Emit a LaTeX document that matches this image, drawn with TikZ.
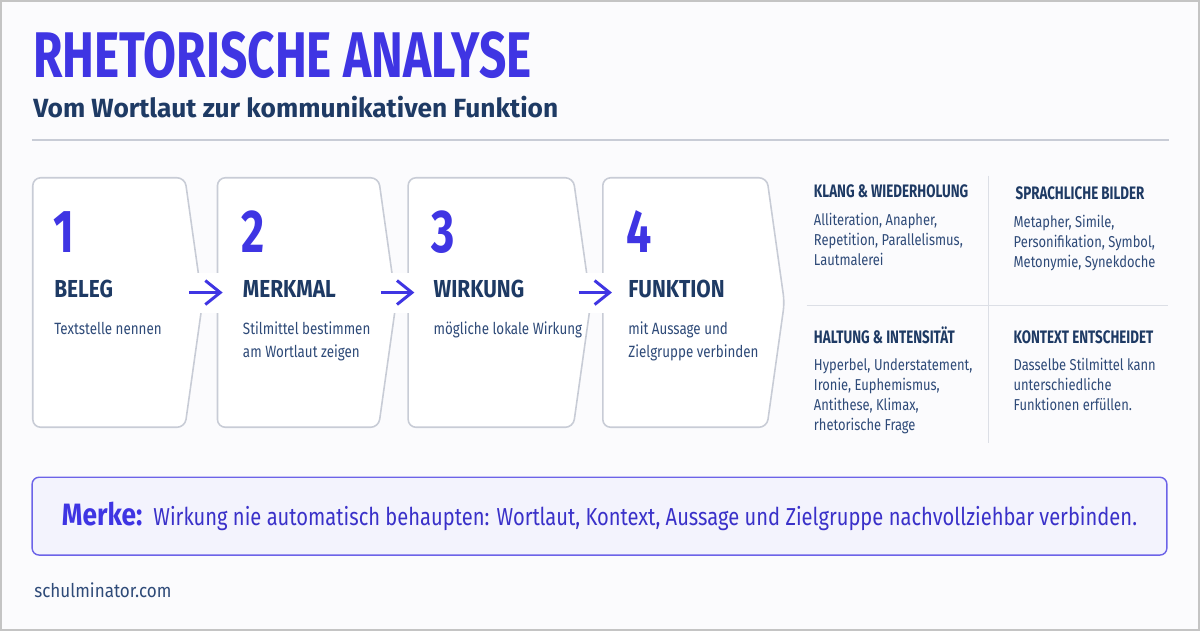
\documentclass[tikz,border=0pt]{standalone}
\usepackage{fontspec}
\setmainfont{Fira Sans}
\newfontfamily\condfont{Fira Sans}[FakeStretch=0.74]
\newfontfamily\headfont{Fira Sans}[FakeStretch=0.85]
\newfontfamily\bodyfont{Fira Sans}[FakeStretch=0.82]
\newfontfamily\sitefont{Fira Sans}[FakeStretch=0.9]
\usetikzlibrary{shapes.symbols,arrows.meta,positioning}

\definecolor{accent}{HTML}{3F35E3}
\definecolor{accentdark}{HTML}{3A31C9}
\definecolor{navy}{HTML}{1E3A64}
\definecolor{bodynavy}{HTML}{2E4A78}
\definecolor{boxgray}{HTML}{C8CCD6}
\definecolor{linegray}{HTML}{DCDFE6}
\definecolor{pagebg}{HTML}{FBFBFD}
\definecolor{framegray}{HTML}{C4C4C4}
\definecolor{merkefill}{HTML}{F3F3FD}
\definecolor{merkeline}{HTML}{6C63E8}

\begin{document}
\begin{tikzpicture}[
    x=0.02cm, y=-0.02cm,
    stepbox/.style={signal, signal to=east, signal pointer angle=164, draw=boxgray, fill=white, line width=0.9pt, rounded corners=4.5pt, minimum height=5cm, inner sep=0pt, anchor=west},
    num/.style={anchor=base west, inner sep=0pt, text=accent, font=\condfont\bfseries\fontsize{34.5}{34.5}\selectfont},
    stephead/.style={anchor=base west, inner sep=0pt, text=navy, font=\headfont\bfseries\fontsize{14}{14}\selectfont},
    steptext/.style={anchor=base west, inner sep=0pt, text=bodynavy, align=left, font=\bodyfont\fontsize{9.3}{13}\selectfont},
    gridhead/.style={anchor=base west, inner sep=0pt, text=navy, font=\condfont\bfseries\fontsize{10.3}{10.3}\selectfont},
    gridtext/.style={anchor=base west, inner sep=0pt, text=bodynavy, align=left, font=\bodyfont\fontsize{9}{11.3}\selectfont},
    sepline/.style={draw=linegray, line width=0.85pt},
    flow/.style={-{Straight Barb[length=0.3cm,width=0.48cm]}, draw=accent, line width=1.7pt, preaction={draw=white, line width=0.8cm, -}}
]

% Page
\fill[pagebg] (0,0) rectangle (1200,630);
\draw[framegray, line width=1.2pt] (0,0) rectangle (1200,630);

% Title
\node[anchor=base west, inner sep=0pt, text=accent, font=\condfont\bfseries\fontsize{36.8}{36.8}\selectfont] (title) at (32,77) {RHETORISCHE ANALYSE};
\node[anchor=base west, inner sep=0pt, text=navy, font=\bfseries\fontsize{15}{15}\selectfont] (subtitle) at (32,117) {Vom Wortlaut zur kommunikativen Funktion};
\draw[draw=boxgray, line width=1pt] (31,139) -- (1170,139);

% Steps
\node[stepbox, minimum width=3.4cm] (b1) at (31,302) {};
\node[stepbox, minimum width=3.58cm] (b2) at (216,302) {};
\node[stepbox, minimum width=3.66cm] (b3) at (407,302) {};
\node[stepbox, minimum width=3.64cm] (b4) at (602,302) {};

% (multi-line texts sit on their last baseline)
\node[num] (n1) at (52,252) {1};
\node[stephead] (h1) at (53,297) {BELEG};
\node[steptext] (t1) at (53,334) {Textstelle nennen};

\node[num] (n2) at (241,252) {2};
\node[stephead] (h2) at (242,297) {MERKMAL};
\node[steptext] (t2) at (242,357) {Stilmittel bestimmen\\am Wortlaut zeigen};

\node[num] (n3) at (431,252) {3};
\node[stephead] (h3) at (433,297) {WIRKUNG};
\node[steptext] (t3) at (433,334) {mögliche lokale Wirkung};

\node[num] (n4) at (626,252) {4};
\node[stephead] (h4) at (628,297) {FUNKTION};
\node[steptext] (t4) at (628,357) {mit Aussage und\\Zielgruppe verbinden};

% Arrows
\draw[flow] ([xshift=-0.28cm, yshift=0.2cm]b1.east) -- ([xshift=0.12cm, yshift=0.2cm]b2.west);
\draw[flow] ([xshift=-0.32cm, yshift=0.2cm]b2.east) -- ([xshift=0.14cm, yshift=0.2cm]b3.west);
\draw[flow] ([xshift=-0.26cm, yshift=0.2cm]b3.east) -- ([xshift=0.2cm, yshift=0.2cm]b4.west);

% Stilmittel grid
\draw[sepline] (989,175) -- (989,443);
\draw[sepline] (807,305) -- (1169,305);

\node[gridhead] (g1) at (814,197) {KLANG \& WIEDERHOLUNG};
\node[gridtext] (g1t) at (814,265) {Alliteration, Anapher,\\Repetition, Parallelismus,\\Lautmalerei};
\node[gridhead] (g2) at (1016,199) {SPRACHLICHE BILDER};
\node[gridtext] (g2t) at (1014,267) {Metapher, Simile,\\Personifikation, Symbol,\\Metonymie, Synekdoche};
\node[gridhead] (g3) at (814,343) {HALTUNG \& INTENSITÄT};
\node[gridtext] (g3t) at (814,430) {Hyperbel, Understatement,\\Ironie, Euphemismus,\\Antithese, Klimax,\\rhetorische Frage};
\node[gridhead] (g4) at (1014,343) {KONTEXT ENTSCHEIDET};
\node[gridtext] (g4t) at (1014,410) {Dasselbe Stilmittel kann\\unterschiedliche\\Funktionen erfüllen.};

% Merke
\node[draw=merkeline, fill=merkefill, line width=0.8pt, rounded corners=4pt, minimum width=22.74cm, minimum height=1.56cm, text=accentdark] (merke) at (599.5,516)
  {{\headfont\bfseries\fontsize{17.6}{17.6}\selectfont\color{accent}Merke:}\hspace{0.22cm}{\bodyfont\fontsize{14}{14}\selectfont Wirkung nie automatisch behaupten: Wortlaut, Kontext, Aussage und Zielgruppe nachvollziehbar verbinden.}};

% Footer
\node[anchor=base west, inner sep=0pt, text=bodynavy, font=\sitefont\fontsize{10.8}{10.8}\selectfont] (site) at (33,597) {schulminator.com};

\end{tikzpicture}
\end{document}
